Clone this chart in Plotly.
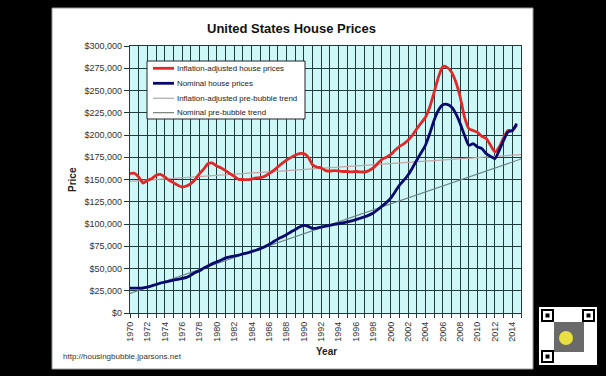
import plotly.graph_objects as go

# ---------------- data ----------------
years = [1970 + 0.5 * i for i in range(90)]  # 1970.0 ... 2014.5

real_prices = [156.6, 157, 152.8, 146, 149, 151, 154.7, 155.8, 152.8, 149,
               146.5, 143.5, 141.6, 142.7, 145.4, 150, 156.6, 162, 167.9, 168.5,
               165, 163, 160, 156.6, 153.6, 150.2, 150, 149.8, 150.5, 151.7,
               152, 153.6, 156.6, 160, 164, 168, 171.6, 174.6, 177.2, 179,
               179, 175.3, 166.7, 164, 163, 160, 159.5, 160, 159.5, 159,
               159, 158.5, 159, 158.5, 158.5, 160, 163, 168, 172.7, 175,
               178, 182.8, 187, 190, 194, 199.7, 207, 213.5, 220, 231.5,
               248, 265, 277, 276, 270.8, 259.5, 242.7, 220, 207, 205,
               203, 198.5, 196, 188.4, 181, 186.5, 197, 205, 205, 211]

nominal_prices = [28, 28, 28, 28.3, 29, 30.5, 32, 33.5, 34.7, 35.8,
                  37, 37.8, 38.8, 40, 42.5, 45.5, 47.5, 50.5, 53, 55.5,
                  57.5, 59.5, 62, 63, 64, 65, 66.5, 67.5, 69, 70.5,
                  72.3, 74.5, 77, 80, 83, 85.5, 88, 91, 93.7, 96.6,
                  98.5, 97.4, 95, 95.5, 96.6, 97.5, 98.5, 99.5, 100.4, 101.3,
                  102.3, 103.5, 105, 106.5, 108, 110, 112.4, 116, 120, 124,
                  129, 136, 143.5, 149, 155, 163, 171.6, 180, 188.4, 201.6,
                  216.5, 227.8, 234, 234.5, 231.5, 224, 212.8, 199.7, 188.4, 190.3,
                  186.5, 184.7, 179, 176, 173.5, 182.8, 194, 203.4, 205, 212.8]

trend_years = [1970, 1980, 1990, 2000, 2010, 2015]
real_trend = [148, 154.7, 161.3, 168, 174.7, 178]
nominal_trend = [22, 55.5, 89, 122.5, 156, 173]

series_names = ["Inflation-adjusted house prices", "Nominal house prices",
                "Inflation-adjusted pre-bubble trend", "Nominal pre-bubble trend"]

y_ticks = list(range(0, 300001, 25000))
x_ticks = list(range(1970, 2016))
x_ticktext = [str(y) if y % 2 == 0 else "" for y in x_ticks]

# ---------------- figure ----------------
RED = "#E02828"
NAVY = "#0A0A6E"
REAL_TREND = "#C4A4A4"
NOM_TREND = "#6A8484"

fig = go.Figure()
fig.add_trace(go.Scatter(x=trend_years, y=[v * 1000 for v in real_trend], mode="lines",
                         line=dict(color=REAL_TREND, width=1.3), name=series_names[2]))
fig.add_trace(go.Scatter(x=trend_years, y=[v * 1000 for v in nominal_trend], mode="lines",
                         line=dict(color=NOM_TREND, width=1.1), name=series_names[3]))
fig.add_trace(go.Scatter(x=years, y=[v * 1000 for v in real_prices], mode="lines",
                         line=dict(color=RED, width=2.8, shape="spline", smoothing=0.6),
                         name=series_names[0]))
fig.add_trace(go.Scatter(x=years, y=[v * 1000 for v in nominal_prices], mode="lines",
                         line=dict(color=NAVY, width=2.8, shape="spline", smoothing=0.6),
                         name=series_names[1]))

L, R, T, B = 130, 85, 46, 63
W, H = 606, 376
PW, PH = W - L - R, H - T - B


def px(x):
    return (x - L) / PW


def py(y):
    return (H - B - y) / PH


shapes = []
# white chart panel
shapes.append(dict(type="rect", xref="paper", yref="paper", layer="below",
                   x0=px(52), x1=px(533), y0=py(369), y1=py(8),
                   fillcolor="white", line=dict(color="#9a9a9a", width=1)))
# plot background
shapes.append(dict(type="rect", xref="paper", yref="paper", layer="below",
                   x0=0, x1=1, y0=0, y1=1, fillcolor="#CEF8F8", line=dict(width=0)))
# legend box
shapes.append(dict(type="rect", xref="paper", yref="paper", layer="above",
                   x0=px(147), x1=px(305), y0=py(119), y1=py(61),
                   fillcolor="white", line=dict(color="#222222", width=1)))
leg_y = [68.3, 83.3, 98.3, 112.7]
leg_style = [(RED, 2.8), (NAVY, 2.8), ("#B0B0B0", 1.3), ("#707070", 1.1)]
annotations = []
for name, yy, (c, w) in zip(series_names, leg_y, leg_style):
    shapes.append(dict(type="line", xref="paper", yref="paper", layer="above",
                       x0=px(153), x1=px(174), y0=py(yy), y1=py(yy),
                       line=dict(color=c, width=w)))
    annotations.append(dict(text=name, xref="paper", yref="paper", x=px(175), y=py(yy),
                            xanchor="left", yanchor="middle", showarrow=False,
                            font=dict(family="Arial", size=7.9, color="#1a1a1a")))

# QR code placeholder (decoration)
qx0, qy0, qs = 539, 307, 58
shapes.append(dict(type="rect", xref="paper", yref="paper", layer="above",
                   x0=px(qx0), x1=px(qx0 + qs), y0=py(qy0 + qs), y1=py(qy0),
                   fillcolor="white", line=dict(width=0)))
shapes.append(dict(type="rect", xref="paper", yref="paper", layer="above",
                   x0=px(qx0 + 15), x1=px(qx0 + 45), y0=py(qy0 + 45), y1=py(qy0 + 15),
                   fillcolor="#6a6a6a", line=dict(width=0)))
for fx, fy in [(qx0 + 3, qy0 + 3), (qx0 + qs - 14, qy0 + 3), (qx0 + 3, qy0 + qs - 14)]:
    shapes.append(dict(type="rect", xref="paper", yref="paper", layer="above",
                       x0=px(fx), x1=px(fx + 11), y0=py(fy + 11), y1=py(fy),
                       fillcolor="white", line=dict(color="black", width=2)))
    shapes.append(dict(type="rect", xref="paper", yref="paper", layer="above",
                       x0=px(fx + 3.5), x1=px(fx + 7.5), y0=py(fy + 7.5), y1=py(fy + 3.5),
                       fillcolor="black", line=dict(width=0)))
shapes.append(dict(type="circle", xref="paper", yref="paper", layer="above",
                   x0=px(qx0 + 20), x1=px(qx0 + 34), y0=py(qy0 + 38), y1=py(qy0 + 24),
                   fillcolor="#E8E040", line=dict(width=0)))

# titles / texts
annotations.append(dict(text="<b>United States House Prices</b>", xref="paper", yref="paper",
                        x=px(291), y=py(28), xanchor="center", yanchor="middle", showarrow=False,
                        font=dict(family="Arial", size=13, color="#111111")))
annotations.append(dict(text="<b>Price</b>", xref="paper", yref="paper", textangle=-90,
                        x=px(72), y=py(180), xanchor="center", yanchor="middle", showarrow=False,
                        font=dict(family="Arial", size=10, color="#222222")))
annotations.append(dict(text="<b>Year</b>", xref="paper", yref="paper",
                        x=px(326), y=py(351), xanchor="center", yanchor="middle", showarrow=False,
                        font=dict(family="Arial", size=10, color="#222222")))
annotations.append(dict(text="http://housingbubble.jparsons.net", xref="paper", yref="paper",
                        x=px(61), y=py(356), xanchor="left", yanchor="middle", showarrow=False,
                        font=dict(family="Arial", size=8, color="#333333")))

GRID = "#1E3C3C"
fig.update_layout(
    width=W, height=H,
    margin=dict(l=L, r=R, t=T, b=B),
    paper_bgcolor="black",
    plot_bgcolor="rgba(0,0,0,0)",
    showlegend=False,
    shapes=shapes,
    annotations=annotations,
    xaxis=dict(range=[1970, 2015], tickmode="array", tickvals=x_ticks, ticktext=x_ticktext,
               tickangle=-90, showgrid=True, gridcolor=GRID, gridwidth=1.2,
               showline=True, linecolor=GRID, linewidth=1.2, mirror=True,
               ticks="outside", ticklen=4, tickcolor=GRID, zeroline=False,
               tickfont=dict(family="Arial", size=9, color="#333333")),
    yaxis=dict(range=[0, 300000], tickmode="array", tickvals=y_ticks, tickformat="$,.0f",
               showgrid=True, gridcolor=GRID, gridwidth=1.2,
               showline=True, linecolor=GRID, linewidth=1.2, mirror=True,
               ticks="outside", ticklen=5, tickcolor=GRID, zeroline=False,
               tickfont=dict(family="Arial", size=9, color="#333333")),
)

fig.write_html(
    "out.html",
    config={"displayModeBar": False},
    post_script="document.body.style.margin='0';document.body.style.overflow='hidden';"
                "document.body.style.background='black';",
)
